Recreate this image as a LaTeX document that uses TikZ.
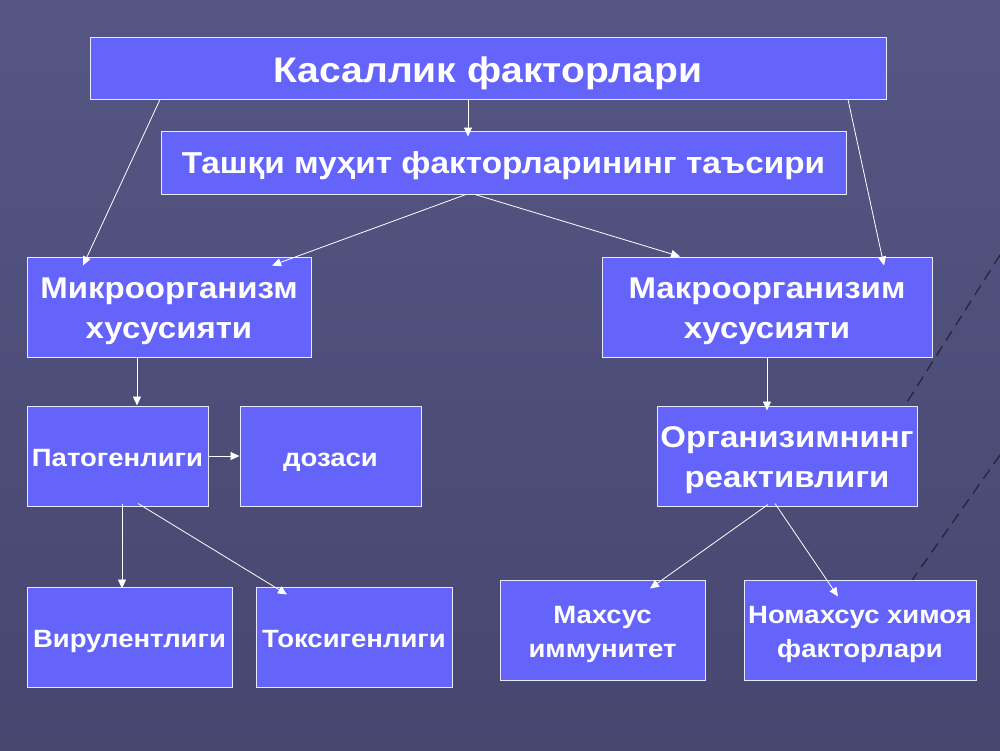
\documentclass[tikz,border=0pt]{standalone}
\usepackage{fontspec}
\setmainfont{Liberation Sans}[FakeStretch=1.1]
\usetikzlibrary{arrows.meta}
\definecolor{bgA}{HTML}{46466F}
\definecolor{bgB}{HTML}{565684}
\definecolor{boxfill}{HTML}{6464FA}
\tikzset{
  box/.style={draw=white!85!boxfill, line width=1pt, fill=boxfill, text=white, align=center, inner sep=0pt},
  bigtwo/.style={box, font=\bfseries\fontsize{30}{40}\selectfont, text height=63.5pt, text depth=0pt, minimum height=100pt},
  smallone/.style={box, font=\bfseries\fontsize{25}{30}\selectfont, text height=21pt, text depth=0pt, minimum height=100pt},
  smalltwo/.style={box, font=\bfseries\fontsize{25}{34}\selectfont, text height=54.5pt, text depth=0pt, minimum height=100pt},
  arr/.style={draw=white, line width=0.8pt, -{Triangle[length=9pt,width=8pt]}},
  bgdash/.style={draw=black!70!bgA, opacity=0.7, line width=1.3pt, dash pattern=on 11pt off 7pt},
}
\begin{document}
\begin{tikzpicture}[x=1pt,y=-1pt]
\useasboundingbox (0,0) rectangle (1000,750);
\shade[top color=bgB, bottom color=bgA] (0,0) rectangle (1000,750);
\draw[bgdash] (1000,255) -- (880,445);
\draw[bgdash] (1000,455) -- (870,640);

\node[box, minimum width=796pt, minimum height=62pt, font=\bfseries\fontsize{35.5}{40}\selectfont, text height=28.4pt, text depth=0pt] (title) at (488,68) {Касаллик факторлари};
\node[box, minimum width=685pt, minimum height=63pt, font=\bfseries\fontsize{30.3}{36}\selectfont, text height=22.5pt, text depth=0pt] (tash) at (503.5,162.5) {Ташқи муҳит факторларининг таъсири};
\node[bigtwo, minimum width=284pt] (micro) at (169,307) {Микроорганизм\\ хусусияти};
\node[bigtwo, minimum width=330pt] (macro) at (767,307) {Макроорганизим\\ хусусияти};
\node[smallone, minimum width=181pt] (pat) at (117.5,456) {Патогенлиги};
\node[smallone, minimum width=181pt] (doz) at (330.5,456) {дозаси};
\node[bigtwo, minimum width=260pt] (org) at (787,456) {Организимнинг\\ реактивлиги};
\node[smallone, minimum width=205pt] (vir) at (129.5,637) {Вирулентлиги};
\node[smallone, minimum width=196pt] (tok) at (354,637) {Токсигенлиги};
\node[smalltwo, minimum width=205pt] (mah) at (602.5,630) {Махсус\\ иммунитет};
\node[smalltwo, minimum width=232pt] (nom) at (860,630) {Номахсус химоя\\ факторлари};

\draw[arr] ([xshift=-20pt]title.south) -- ([xshift=-35.5pt,yshift=-6pt]tash.north);
\draw[arr] ([xshift=-328pt]title.south) -- ([xshift=-86pt,yshift=-9pt]micro.north);
\draw[arr] ([xshift=360pt]title.south) -- ([xshift=117pt,yshift=-9pt]macro.north);
\draw[arr] ([xshift=-37.5pt]tash.south) -- ([xshift=103pt,yshift=-9pt]micro.north);
\draw[arr] ([xshift=-28.5pt]tash.south) -- ([xshift=-87pt]macro.north);
\draw[arr] ([xshift=-32pt]micro.south) -- ([xshift=-32pt]micro.south |- pat.north);
\draw[arr] (pat.east) -- (doz.west);
\draw[arr] ([xshift=0pt]macro.south) -- ([yshift=-5pt]macro.south |- org.north);
\draw[arr] ([xshift=4.5pt,yshift=3pt]pat.south) -- ([xshift=-7.5pt,yshift=-2pt]vir.north);
\draw[arr] ([xshift=20.5pt,yshift=3pt]pat.south) -- ([xshift=-67pt,yshift=-8pt]tok.north);
\draw[arr] ([xshift=-19pt,yshift=2pt]org.south) -- ([xshift=47.5pt,yshift=-9pt]mah.north);
\draw[arr] ([xshift=-12pt,yshift=3pt]org.south) -- ([xshift=-22pt,yshift=-17pt]nom.north);
\end{tikzpicture}
\end{document}
